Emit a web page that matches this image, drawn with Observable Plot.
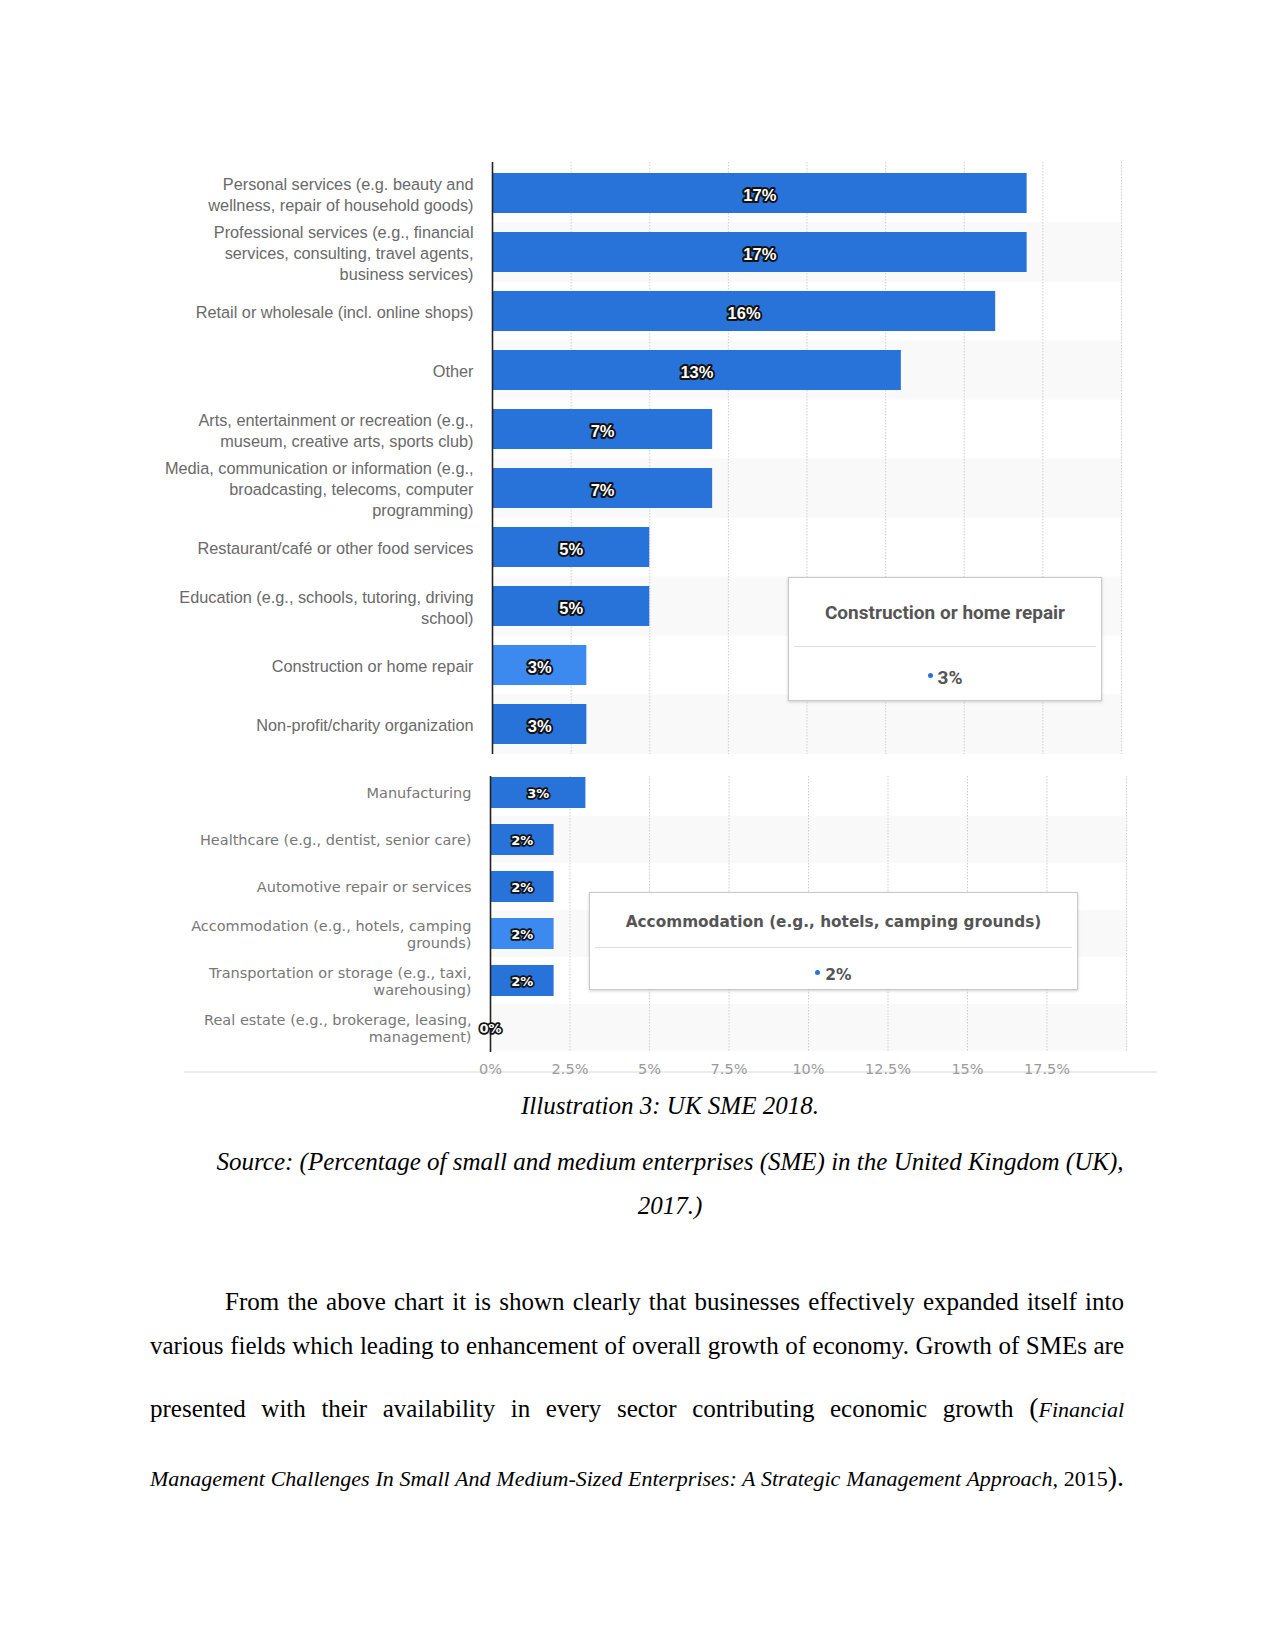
<!DOCTYPE html>
<html>
<head>
<meta charset="utf-8">
<script src="https://cdn.jsdelivr.net/npm/d3@7"></script>
<script src="https://cdn.jsdelivr.net/npm/@observablehq/plot@0.6"></script>
<style>
html, body { margin: 0; padding: 0; background: #fff; }
#page { position: relative; width: 1275px; height: 1650px; overflow: hidden; background: #fff; }
.chart { position: absolute; left: 0; z-index: 2; }
.chart svg { display: block; overflow: visible; }
.tip { position: absolute; z-index: 3; background: #fff; border: 1px solid #c9c9c9; box-shadow: 0 1px 3px rgba(0,0,0,0.18); box-sizing: border-box; color: #555; text-align: center; }
.tip .sep { position: absolute; height: 1px; background: #dcdcdc; }
.tip .ttl { position: absolute; left: 0; right: 0; font-weight: bold; white-space: nowrap; }
.tip .val { position: absolute; left: 0; right: 0; font-weight: bold; white-space: nowrap; }
.tip .dot { display: inline-block; width: 5px; height: 5px; border-radius: 50%; vertical-align: middle; margin-right: 5px; position: relative; top: -3px; }
.doc { position: absolute; font-family: "Liberation Serif", "Times New Roman", serif; color: #000; font-size: 25px; white-space: nowrap; }
.just { text-align: justify; text-align-last: justify; white-space: normal; }
#shadow { position: absolute; z-index: 1; left: 184px; width: 973px; top: 1071px; height: 2px; background: #ececec; }
</style>
</head>
<body>
<div id="page">
  <div id="shadow"></div>
  <div id="topChart" class="chart" style="top:0px"></div>
  <div id="bottomChart" class="chart" style="top:760px"></div>
  <div id="topTip" class="tip" style="left:788px; top:577px; width:314px; height:124px;"></div>
  <div id="bottomTip" class="tip" style="left:589px; top:892px; width:489px; height:98px;"></div>

  <div class="doc" style="left:216px; width:908px; top:1091px; line-height:30px; text-align:center; font-style:italic;">Illustration 3: UK SME 2018.</div>
  <div class="doc" style="left:216px; width:908px; top:1140px; line-height:44px; text-align:center; font-style:italic;">Source: (Percentage of small and medium enterprises (SME) in the United Kingdom (UK),<br>2017.)</div>

  <div class="doc just" style="left:225px; width:899px; top:1282px; line-height:40px;">From the above chart it is shown clearly that businesses effectively expanded itself into</div>
  <div class="doc just" style="left:150px; width:974px; top:1326px; line-height:40px;">various fields which leading to enhancement of overall growth of economy. Growth of SMEs are</div>
  <div class="doc just" style="left:150px; width:974px; top:1388px; line-height:40px;">presented with their availability in every sector contributing economic growth <span style="font-size:28px">(</span><i style="font-size:22px">Financial</i></div>
  <div class="doc just" style="left:150px; width:974px; top:1457px; line-height:40px; font-size:22px;"><i>Management Challenges In Small And Medium-Sized Enterprises: A Strategic Management Approach,</i> 2015<span style="font-size:28px">).</span></div>
</div>

<script>
// ---------- data ----------
const topCategories = [
  "Personal services (e.g. beauty and wellness, repair of household goods)",
  "Professional services (e.g., financial services, consulting, travel agents, business services)",
  "Retail or wholesale (incl. online shops)",
  "Other",
  "Arts, entertainment or recreation (e.g., museum, creative arts, sports club)",
  "Media, communication or information (e.g., broadcasting, telecoms, computer programming)",
  "Restaurant/café or other food services",
  "Education (e.g., schools, tutoring, driving school)",
  "Construction or home repair",
  "Non-profit/charity organization"
];
const topLabels = [
  "Personal services (e.g. beauty and\nwellness, repair of household goods)",
  "Professional services (e.g., financial\nservices, consulting, travel agents,\nbusiness services)",
  "Retail or wholesale (incl. online shops)",
  "Other",
  "Arts, entertainment or recreation (e.g.,\nmuseum, creative arts, sports club)",
  "Media, communication or information (e.g.,\nbroadcasting, telecoms, computer\nprogramming)",
  "Restaurant/café or other food services",
  "Education (e.g., schools, tutoring, driving\nschool)",
  "Construction or home repair",
  "Non-profit/charity organization"
];
const topValues = [17, 17, 16, 13, 7, 7, 5, 5, 3, 3];
const topHighlight = "Construction or home repair";

const bottomCategories = [
  "Manufacturing",
  "Healthcare (e.g., dentist, senior care)",
  "Automotive repair or services",
  "Accommodation (e.g., hotels, camping grounds)",
  "Transportation or storage (e.g., taxi, warehousing)",
  "Real estate (e.g., brokerage, leasing, management)"
];
const bottomLabels = [
  "Manufacturing",
  "Healthcare (e.g., dentist, senior care)",
  "Automotive repair or services",
  "Accommodation (e.g., hotels, camping\ngrounds)",
  "Transportation or storage (e.g., taxi,\nwarehousing)",
  "Real estate (e.g., brokerage, leasing,\nmanagement)"
];
const bottomValues = [3, 2, 2, 2, 2, 0];
const bottomHighlight = "Accommodation (e.g., hotels, camping grounds)";

const xDomain = [0, 20];
const gridTicks = [2.5, 5, 7.5, 10, 12.5, 15, 17.5, 20];
const axisTicks = [0, 2.5, 5, 7.5, 10, 12.5, 15, 17.5];

// ---------- style ----------
const barColor = "#2773d9";
const hiColor = "#3c8af0";

function makeChart(cfg) {
  const rows = cfg.categories.map((c, i) => ({
    cat: c, label: cfg.labels[i], value: cfg.values[i], alt: i % 2 === 1, hi: c === cfg.highlight
  }));
  const frameH = cfg.height - cfg.marginTop - cfg.marginBottom;
  const step = frameH / rows.length;
  const gap = step * cfg.pad;
  return Plot.plot({
    width: 1275,
    height: cfg.height,
    marginLeft: cfg.marginLeft,
    marginRight: cfg.marginRight,
    marginTop: cfg.marginTop,
    marginBottom: cfg.marginBottom,
    style: { background: "transparent", overflow: "visible" },
    x: { domain: xDomain, axis: null },
    y: { domain: cfg.categories, paddingInner: cfg.pad, paddingOuter: cfg.pad / 2, axis: null },
    marks: [
      Plot.barX(rows.filter(d => d.alt), {
        x1: xDomain[0], x2: xDomain[1], y: "cat",
        fill: "#f9f9f9", insetTop: -gap / 2, insetBottom: -gap / 2
      }),
      Plot.ruleX(gridTicks, { stroke: "#cfcfcf", strokeDasharray: "1.5,1.5", insetTop: cfg.gridInset }),
      Plot.barX(rows, { x: "value", y: "cat", fill: d => d.hi ? hiColor : barColor }),
      Plot.ruleX([0], { stroke: "#222", strokeWidth: 1.6, insetTop: cfg.gridInset }),
      Plot.text(rows, {
        y: "cat", text: "label", frameAnchor: "left", textAnchor: "end", dx: cfg.labelDx,
        fill: cfg.labelColor, fontSize: cfg.labelSize, fontFamily: cfg.labelFont, lineHeight: cfg.lineHeight
      }),
      Plot.text(rows, {
        x: d => d.value / 2, y: "cat", text: d => d.value + "%", dy: cfg.valueDy,
        fill: "white", stroke: "#111", strokeWidth: cfg.valueStroke, paintOrder: "stroke",
        fontWeight: "bold", fontSize: cfg.valueSize, fontFamily: cfg.valueFont
      }),
      ...(cfg.axis ? [Plot.axisX({
        ticks: axisTicks, tickSize: 0, tickPadding: cfg.tickPadding, tickFormat: d => d + "%",
        label: null, fontSize: 14.5, fontFamily: "DejaVu Sans", fill: "#9a9a9a"
      })] : [])
    ]
  });
}

document.getElementById("topChart").append(makeChart({
  categories: topCategories, labels: topLabels, values: topValues, highlight: topHighlight,
  height: 760, marginTop: 162, marginBottom: 6, marginLeft: 492, marginRight: 154,
  pad: 0.324, gridInset: 0, labelDx: -19, labelSize: 16.3, labelFont: "Liberation Sans", labelColor: "#696969",
  lineHeight: 1.29, valueSize: 16.5, valueFont: "Liberation Sans", valueStroke: 4, valueDy: 2,
  axis: false
}));

document.getElementById("bottomChart").append(makeChart({
  categories: bottomCategories, labels: bottomLabels, values: bottomValues, highlight: bottomHighlight,
  height: 330, marginTop: 8, marginBottom: 38, marginLeft: 490, marginRight: 149,
  pad: 0.331, gridInset: 8, labelDx: -19, labelSize: 14.5, labelFont: "DejaVu Sans", labelColor: "#777",
  lineHeight: 1.15, valueSize: 13, valueFont: "DejaVu Sans", valueStroke: 3.5, valueDy: 1,
  axis: true, tickPadding: 11
}));

// ---------- tooltips (from data) ----------
function fillTip(el, cats, vals, hi, o) {
  const i = cats.indexOf(hi);
  el.innerHTML =
    `<div class="ttl" style="top:${o.titleTop}px; font:bold ${o.titleSize}px ${o.font};">${cats[i]}</div>` +
    `<div class="sep" style="left:5px; right:5px; top:${o.sepTop}px;"></div>` +
    `<div class="val" style="top:${o.valTop}px; font:bold ${o.valSize}px ${o.font};"><span class="dot" style="background:${barColor}"></span>${vals[i]}%</div>`;
}
fillTip(document.getElementById("topTip"), topCategories, topValues, topHighlight,
  { titleTop: 23, titleSize: 19, sepTop: 68, valTop: 88, valSize: 19, font: "Roboto, 'Liberation Sans', sans-serif" });
fillTip(document.getElementById("bottomTip"), bottomCategories, bottomValues, bottomHighlight,
  { titleTop: 20, titleSize: 15.3, sepTop: 54, valTop: 73, valSize: 15.5, font: "'DejaVu Sans', sans-serif" });
</script>
</body>
</html>
